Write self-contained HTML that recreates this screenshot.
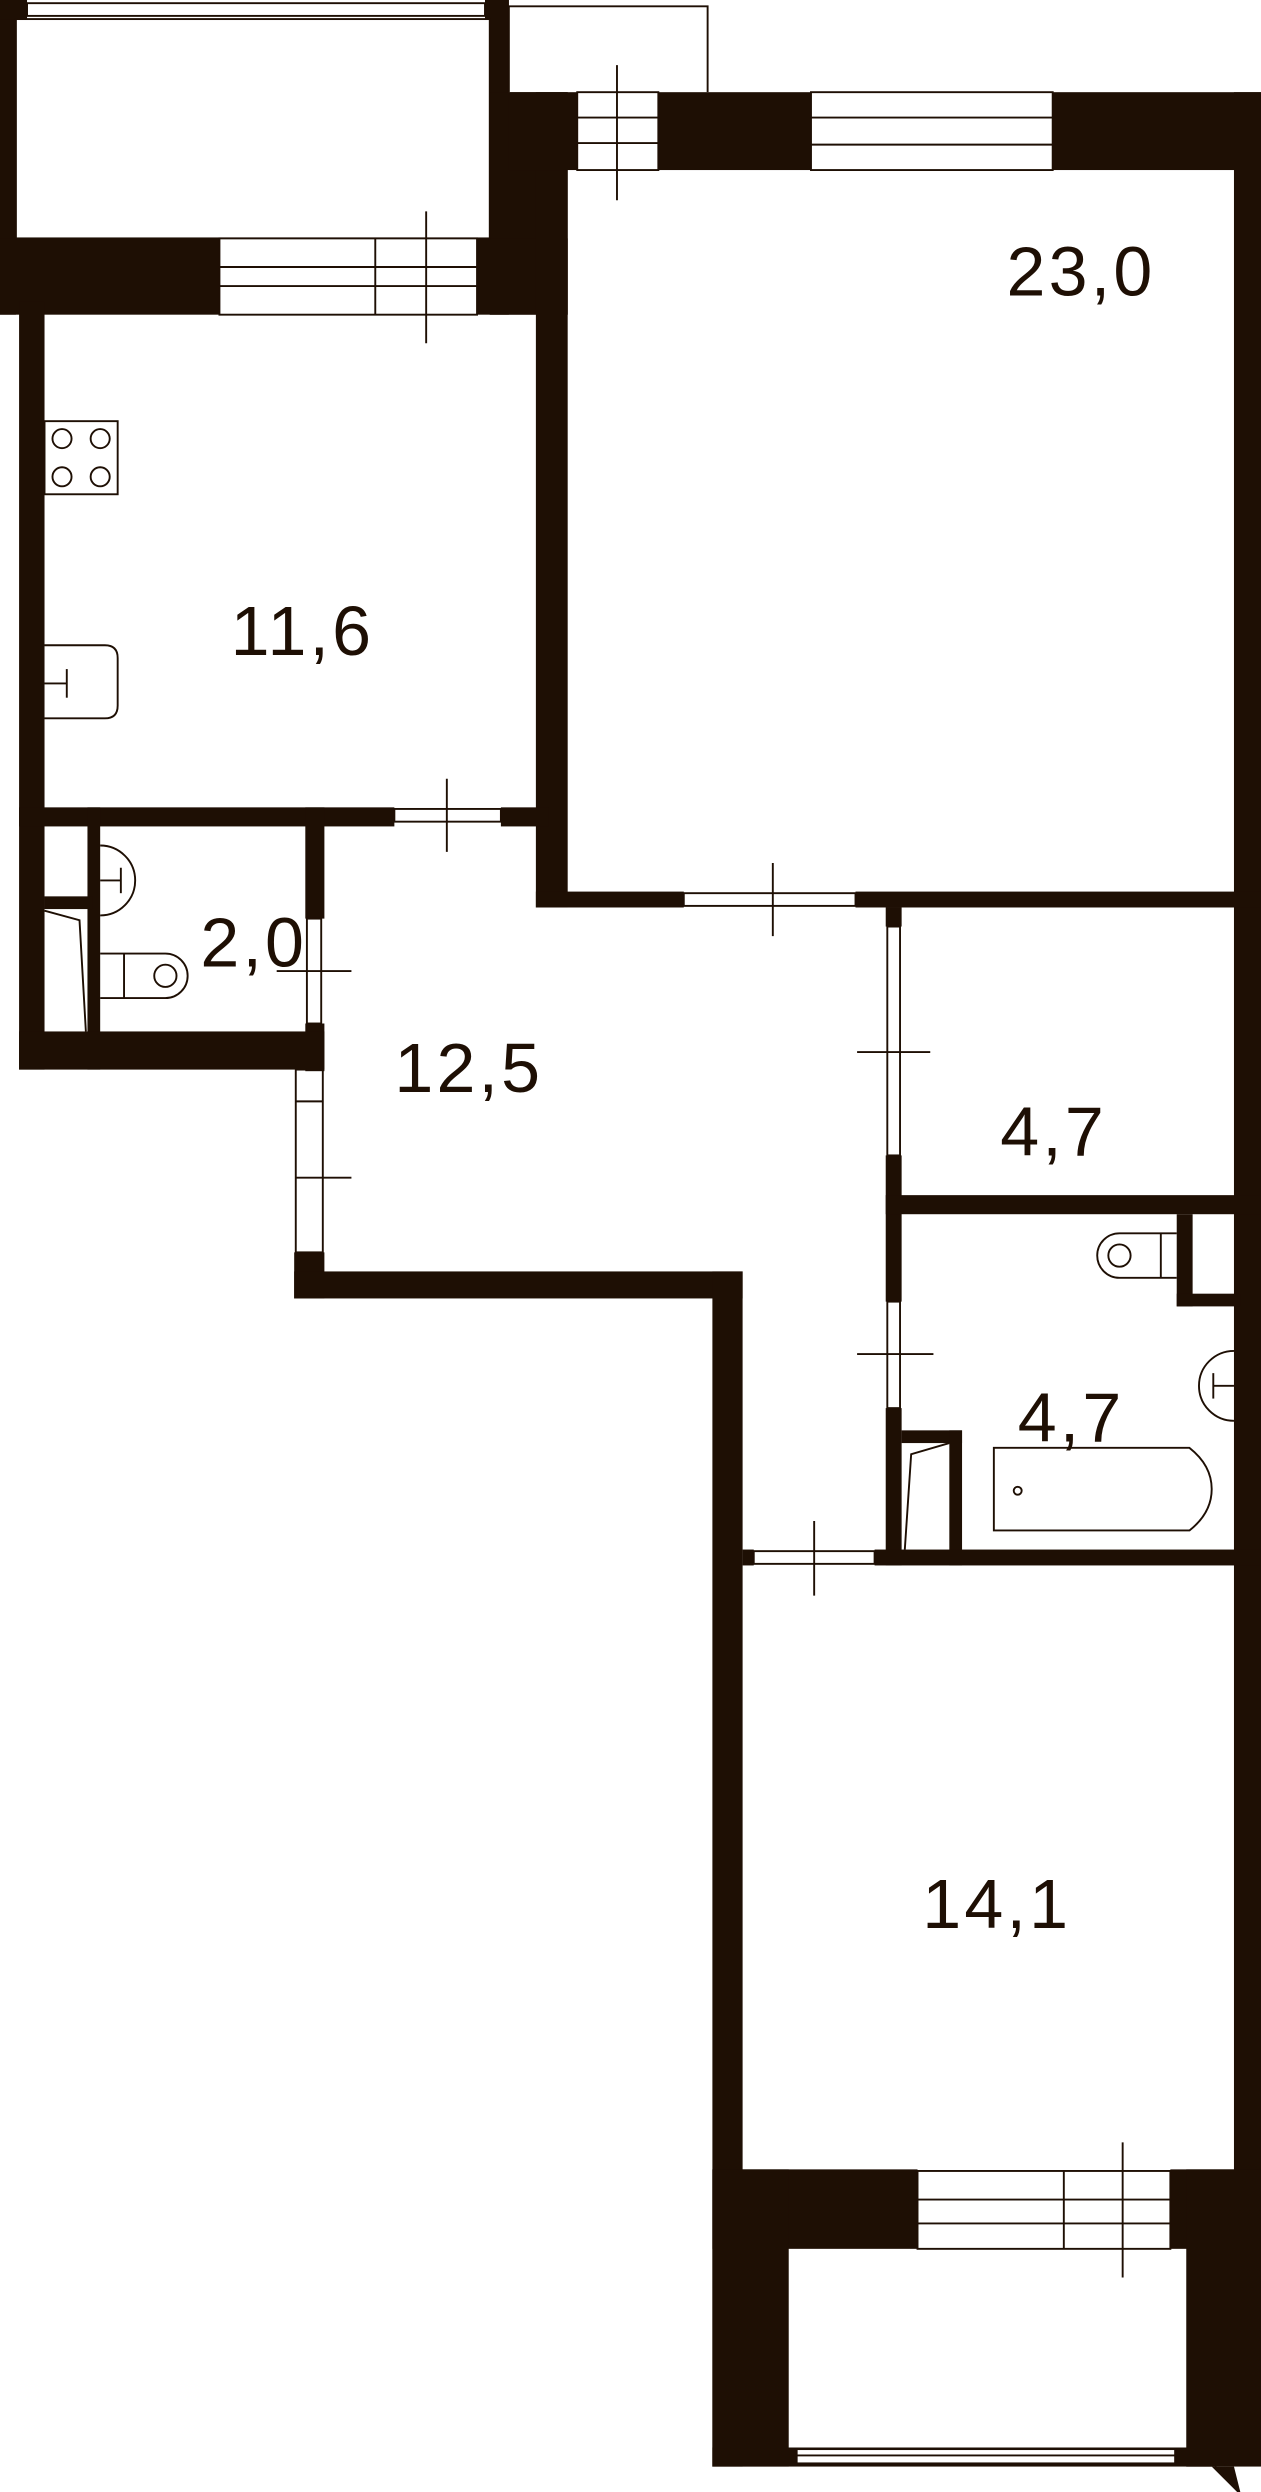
<!DOCTYPE html>
<html><head><meta charset="utf-8"><style>html,body{margin:0;padding:0;background:#fff}svg{display:block}</style></head>
<body>
<svg width="1261" height="2492" viewBox="0 0 793 1568" preserveAspectRatio="none" xmlns="http://www.w3.org/2000/svg">
<g fill="#1e0f04" stroke="none">
<rect x="0" y="0" width="10" height="198"/>
<rect x="0" y="0" width="17" height="12"/>
<rect x="305" y="0" width="15" height="12"/>
<rect x="308" y="0" width="12" height="198"/>
<rect x="308" y="58" width="49" height="140"/>
<rect x="0" y="150" width="138" height="48"/>
<rect x="300" y="150" width="57" height="48"/>
<rect x="12" y="190" width="16" height="483"/>
<rect x="337" y="58" width="20" height="513"/>
<rect x="320" y="58" width="43" height="49"/>
<rect x="414" y="58" width="96" height="49"/>
<rect x="662" y="58" width="131" height="49"/>
<rect x="776" y="58" width="17" height="1330"/>
<rect x="337" y="561" width="93" height="10"/>
<rect x="538" y="561" width="255" height="10"/>
<rect x="12" y="508" width="236" height="12"/>
<rect x="315" y="508" width="30" height="12"/>
<rect x="55" y="508" width="8" height="165"/>
<rect x="28" y="564" width="30" height="8"/>
<rect x="192" y="508" width="12" height="70"/>
<rect x="192" y="644" width="12" height="30"/>
<rect x="12" y="649" width="192" height="24"/>
<rect x="185" y="788" width="19" height="29"/>
<rect x="185" y="800" width="282" height="17"/>
<rect x="448" y="800" width="19" height="752"/>
<rect x="557" y="571" width="10" height="12"/>
<rect x="557" y="727" width="10" height="92"/>
<rect x="557" y="886" width="10" height="99"/>
<rect x="557" y="752" width="236" height="12"/>
<rect x="740" y="764" width="10" height="58"/>
<rect x="740" y="814" width="40" height="8"/>
<rect x="567" y="900" width="38" height="8"/>
<rect x="597" y="900" width="8" height="85"/>
<rect x="467" y="975" width="7" height="10"/>
<rect x="550" y="975" width="243" height="10"/>
<rect x="448" y="1365" width="129" height="50"/>
<rect x="736" y="1365" width="57" height="50"/>
<rect x="448" y="1365" width="48" height="187"/>
<rect x="746" y="1365" width="47" height="187"/>
<polygon points="746,1540 793,1540 793,1552 780,1568 764,1552 746,1552"/>
<rect x="448" y="1540" width="345" height="12"/>
</g>
<rect x="765" y="1552" width="28" height="16" fill="#fff"/>
<polygon points="762,1552 776,1552 780,1568 778,1568" fill="#1e0f04"/>
<rect x="501" y="1541" width="238" height="9" fill="#fff"/>
<g fill="none" stroke="#1e0f04" stroke-width="1.2">
<rect x="17" y="2" width="288" height="8"/>
<polyline points="320,58 320,4 445,4 445,58"/>
<rect x="10" y="12" width="298" height="138"/>
<rect x="138" y="150" width="162" height="48" fill="#fff"/>
<line x1="138" y1="168" x2="300" y2="168"/><line x1="138" y1="180" x2="300" y2="180"/>
<line x1="236" y1="150" x2="236" y2="198"/><line x1="268" y1="133" x2="268" y2="216"/>
<rect x="363" y="58" width="51" height="49" fill="#fff"/>
<line x1="363" y1="74" x2="414" y2="74"/><line x1="363" y1="90" x2="414" y2="90"/>
<line x1="388" y1="41" x2="388" y2="126"/>
<rect x="510" y="58" width="152" height="49"/>
<line x1="510" y1="74" x2="662" y2="74"/><line x1="510" y1="91" x2="662" y2="91"/>
<rect x="28" y="265" width="46" height="46"/>
<circle cx="39" cy="276" r="6"/><circle cx="63" cy="276" r="6"/><circle cx="39" cy="300" r="6"/><circle cx="63" cy="300" r="6"/>
<path d="M28,406 H66 Q74,406 74,414 V444 Q74,452 66,452 H28"/>
<line x1="28" y1="430" x2="42" y2="430"/><line x1="42" y1="421" x2="42" y2="439"/>
<rect x="248" y="509" width="67" height="8"/><line x1="281" y1="490" x2="281" y2="536"/>
<rect x="430" y="562" width="108" height="8"/><line x1="486" y1="543" x2="486" y2="589"/>
<rect x="558" y="583" width="8" height="144"/><line x1="539" y1="662" x2="585" y2="662"/>
<rect x="558" y="819" width="8" height="67"/><line x1="539" y1="852" x2="587" y2="852"/>
<rect x="474" y="976" width="76" height="8"/><line x1="512" y1="957" x2="512" y2="1004"/>
<rect x="193" y="578" width="9" height="66"/><line x1="174" y1="611" x2="221" y2="611"/>
<rect x="186" y="673" width="17" height="115"/><line x1="186" y1="693" x2="203" y2="693"/><line x1="186" y1="741" x2="221" y2="741"/>
<path d="M63,532 A22,22 0 0 1 63,576"/><line x1="63" y1="554" x2="76" y2="554"/><line x1="76" y1="546" x2="76" y2="562"/>
<path d="M63,600 H104 A14,14 0 0 1 104,628 H63"/><line x1="78" y1="600" x2="78" y2="628"/><circle cx="104" cy="614" r="7"/>
<polyline points="28,573 50,579 54,649"/>
<path d="M776,850 A22,22 0 0 0 776,894"/><line x1="776" y1="872" x2="763" y2="872"/><line x1="763" y1="864" x2="763" y2="880"/>
<path d="M740,776 H704 A14,14 0 0 0 704,804 H740"/><line x1="730" y1="776" x2="730" y2="804"/><circle cx="704" cy="790" r="7"/>
<path d="M625,911 H748 Q762,922 762,937 Q762,952 748,963 H625 Z"/><circle cx="640" cy="938" r="2.5"/>
<polyline points="597,908 573,915 569,975"/>
<rect x="577" y="1366" width="159" height="49" fill="#fff"/>
<line x1="577" y1="1384" x2="736" y2="1384"/><line x1="577" y1="1399" x2="736" y2="1399"/>
<line x1="669" y1="1366" x2="669" y2="1415"/><line x1="706" y1="1348" x2="706" y2="1433"/>
<rect x="501" y="1541" width="238" height="9"/><line x1="501" y1="1545" x2="739" y2="1545"/>
</g>
<g font-family="Liberation Sans, sans-serif" font-size="44" fill="#1e0f04" letter-spacing="2">
<text x="633" y="186">23,0</text>
<text x="145" y="412">11,6</text>
<text x="126" y="608">2,0</text>
<text x="248" y="687">12,5</text>
<text x="629" y="727">4,7</text>
<text x="640" y="907">4,7</text>
<text x="580" y="1213">14,1</text>
</g>
</svg>
</body></html>
